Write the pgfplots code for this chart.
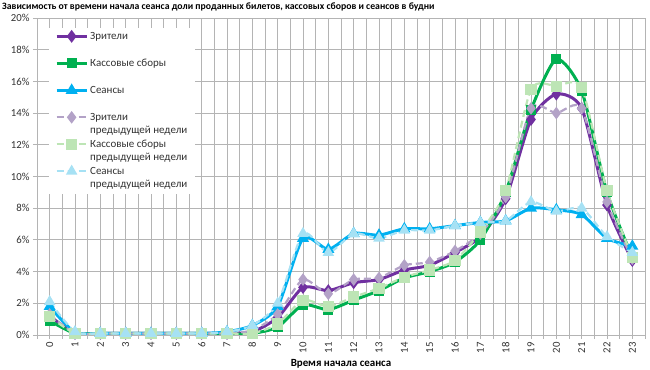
\documentclass[border=0pt]{standalone}
\usepackage{pgfplots}
\usepackage{pgfplotstable}
\pgfplotsset{compat=1.18}
\usepackage{fontspec}
\setmainfont{Carlito}

\definecolor{cP}{HTML}{7030A0}
\definecolor{cG}{HTML}{00B050}
\definecolor{cB}{HTML}{00B0F0}
\definecolor{cLP}{HTML}{B3A2C7}
\definecolor{cLG}{HTML}{BDE5B5}
\definecolor{cLB}{HTML}{A6E1F4}
\definecolor{gridc}{HTML}{B4B4B4}

\pgfplotstableread{
h  P    G    B    LP   LG   LB
0  1.2  0.9  1.8  1.3  1.15 2.1
1  0.1  0.1  0.15 0.1  0.1  0.2
2  0.1  0.1  0.1  0.1  0.1  0.1
3  0.1  0.1  0.1  0.1  0.1  0.1
4  0.1  0.1  0.1  0.1  0.1  0.1
5  0.1  0.1  0.1  0.1  0.1  0.1
6  0.1  0.1  0.1  0.1  0.1  0.1
7  0.1  0.05 0.2  0.1  0.1  0.2
8  0.2  0.1  0.6  0.3  0.1  0.6
9  1.1  0.5  1.8  1.3  0.7  2.0
10 3.0  1.9  6.1  3.5  2.2  6.4
11 2.8  1.6  5.4  2.6  1.8  5.2
12 3.3  2.2  6.4  3.5  2.4  6.4
13 3.5  2.8  6.3  3.6  2.95 6.1
14 4.1  3.6  6.7  4.4  3.65 6.6
15 4.4  4.0  6.7  4.6  4.1  6.6
16 5.2  4.6  6.9  5.3  4.7  6.9
17 6.2  6.0  7.1  6.4  6.5  7.1
18 8.6  9.0  7.2  8.7  9.1  7.2
19 13.6 14.2 8.0  14.3 15.5 8.4
20 15.2 17.4 7.9  14.0 15.7 7.8
21 14.3 15.4 7.6  14.3 15.6 8.0
22 8.2  9.0  6.1  8.4  9.1  6.2
23 4.7  4.9  5.6  4.8  4.9  5.2
}\data

\newcommand{\legone}[1]{\raisebox{0pt}[7bp][16bp]{#1}}
\newcommand{\legtwo}[2]{\raisebox{0pt}[7bp][16bp]{\begin{tabular}[t]{@{}l@{}}#1\\#2\end{tabular}}}

\begin{document}
\begin{tikzpicture}
\useasboundingbox (0,0) rectangle (650bp,370bp);
\node[anchor=base west, inner sep=0pt, font=\bfseries\fontsize{9.8}{11}\selectfont] at (2bp,360bp)
  {Зависимость от времени начала сеанса доли проданных билетов, кассовых сборов и сеансов в будни};
\begin{axis}[
  at={(37bp,35bp)}, anchor=south west,
  scale only axis, width=608bp, height=317bp,
  xmin=-0.5, xmax=23.5, ymin=0, ymax=20,
  xtick={0,...,23}, minor xtick={-0.5,0.5,...,23.5},
  ytick={0,2,...,20},
  grid=both,
  major grid style={draw=gridc, line width=0.8bp},
  minor grid style={draw=gridc, line width=0.8bp},
  axis line style={draw=gridc, line width=0.8bp},
  tick align=outside, tick pos=left,
  major tick length=4bp, minor tick length=4bp,
  tick style={draw=gridc, line width=0.8bp},
  /pgf/number format/assume math mode=true,
  yticklabel={\pgfmathprintnumber{\tick}\%},
  ticklabel style={font=\fontsize{10.8}{12}\selectfont, text=black!80},
  xticklabel style={rotate=90, anchor=east},
  legend style={at={(rel axis cs:0.0197,0.968)}, anchor=north west, fill=white, draw=none,
    font=\fontsize{11}{13.5}\selectfont, text=black!80, row sep=0pt, inner ysep=2bp, inner xsep=6bp,
    cells={anchor=base west}, nodes={text depth=, inner sep=2bp}},
  legend image code/.code={\draw[mark repeat=2,mark phase=2,#1] plot coordinates {(0bp,3bp) (15bp,3bp) (30bp,3bp)};},
  every axis plot/.append style={smooth, tension=0.4},
]
\addplot[cP, line width=3bp, mark=diamond*, mark size=4bp, mark options={fill=cP}] table[x=h,y=P] {\data};
\addlegendentry{\legone{Зрители}}
\addplot[cG, line width=3bp, mark=square*, mark size=3.5bp, mark options={fill=cG}] table[x=h,y=G] {\data};
\addlegendentry{\legone{Кассовые сборы}}
\addplot[cB, line width=3bp, mark=triangle*, mark size=4bp, mark options={fill=cB}] table[x=h,y=B] {\data};
\addlegendentry{\legone{Сеансы}}
\addplot[cLP, line width=2.2bp, dash pattern=on 7bp off 4bp, mark=diamond*, mark size=4.5bp, mark options={solid, fill=cLP}] table[x=h,y=LP] {\data};
\addlegendentry{\legtwo{Зрители}{предыдущей недели}}
\addplot[cLG, line width=2.2bp, dash pattern=on 7bp off 4bp, mark=square*, mark size=4.5bp, mark options={solid, fill=cLG}] table[x=h,y=LG] {\data};
\addlegendentry{\legtwo{Кассовые сборы}{предыдущей недели}}
\addplot[cLB, line width=2.2bp, dash pattern=on 7bp off 4bp, mark=triangle*, mark size=4.5bp, mark options={solid, fill=cLB}] table[x=h,y=LB] {\data};
\addlegendentry{\legtwo{Сеансы}{предыдущей недели}}
\end{axis}
\node[anchor=base, inner sep=0pt, font=\bfseries\fontsize{11}{13}\selectfont] at (341bp,4bp) {Время начала сеанса};
\end{tikzpicture}
\end{document}
